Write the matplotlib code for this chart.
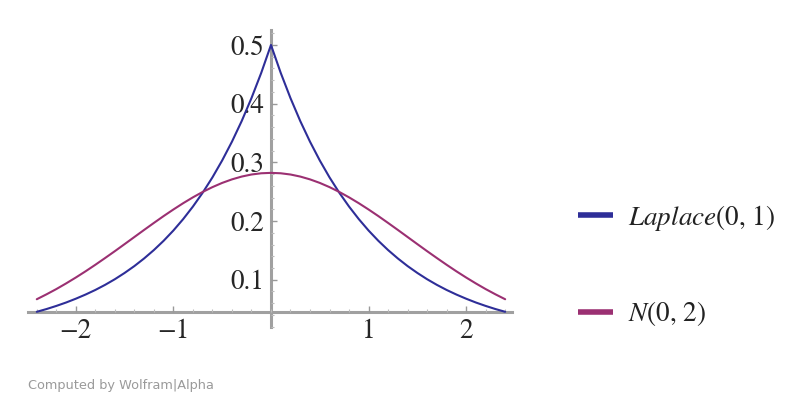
import matplotlib
matplotlib.use("Agg")
import matplotlib.pyplot as plt
from matplotlib.ticker import MultipleLocator, FixedLocator

# ---- data ----
x_vals = [-2.4, -2.3, -2.2, -2.1, -2.0, -1.9, -1.8, -1.7, -1.6, -1.5, -1.4, -1.3,
          -1.2, -1.1, -1.0, -0.9, -0.8, -0.7, -0.6, -0.5, -0.4, -0.3, -0.2, -0.1,
          0.0, 0.1, 0.2, 0.3, 0.4, 0.5, 0.6, 0.7, 0.8, 0.9, 1.0, 1.1, 1.2, 1.3,
          1.4, 1.5, 1.6, 1.7, 1.8, 1.9, 2.0, 2.1, 2.2, 2.3, 2.4]
laplace_vals = [0.0454, 0.0501, 0.0554, 0.0612, 0.0677, 0.0748, 0.0826, 0.0913,
                0.1009, 0.1116, 0.1233, 0.1363, 0.1506, 0.1664, 0.1839, 0.2033,
                0.2247, 0.2483, 0.2744, 0.3033, 0.3352, 0.3704, 0.4094, 0.4524,
                0.5000,
                0.4524, 0.4094, 0.3704, 0.3352, 0.3033, 0.2744, 0.2483, 0.2247,
                0.2033, 0.1839, 0.1664, 0.1506, 0.1363, 0.1233, 0.1116, 0.1009,
                0.0913, 0.0826, 0.0748, 0.0677, 0.0612, 0.0554, 0.0501, 0.0454]
normal_vals = [0.0668, 0.0752, 0.0841, 0.0937, 0.1038, 0.1144, 0.1255, 0.1370,
               0.1487, 0.1607, 0.1728, 0.1849, 0.1968, 0.2085, 0.2197, 0.2304,
               0.2404, 0.2496, 0.2578, 0.2650, 0.2710, 0.2758, 0.2793, 0.2814,
               0.2821,
               0.2814, 0.2793, 0.2758, 0.2710, 0.2650, 0.2578, 0.2496, 0.2404,
               0.2304, 0.2197, 0.2085, 0.1968, 0.1849, 0.1728, 0.1607, 0.1487,
               0.1370, 0.1255, 0.1144, 0.1038, 0.0937, 0.0841, 0.0752, 0.0668]
series_labels = ["$Laplace$(0, 1)", "$N$(0, 2)"]
x_ticks = [-2, -1, 1, 2]
x_tick_labels = ["\u22122", "\u22121", "1", "2"]
y_ticks = [0.1, 0.2, 0.3, 0.4, 0.5]
y_tick_labels = ["0.1", "0.2", "0.3", "0.4", "0.5"]
x_axis_level = 0.0454

plt.rcParams["mathtext.fontset"] = "stix"
plt.rcParams["font.family"] = ["STIXGeneral", "DejaVu Serif"]

W, H = 800, 408
fig = plt.figure(figsize=(W / 100, H / 100), dpi=100)
ax = fig.add_axes([28 / W, (H - 327) / H, 484 / W, 297 / H])
ax.set_xlim(-2.49, 2.47)
ax.set_ylim(0.0195, 0.5255)

blue = "#2E2E98"
purple = "#9B3072"
l1, = ax.plot(x_vals, laplace_vals, color=blue, lw=1.5, label=series_labels[0],
              zorder=3, solid_capstyle="round")
l2, = ax.plot(x_vals, normal_vals, color=purple, lw=1.5, label=series_labels[1],
              zorder=3, solid_capstyle="round")

axis_col = "#a0a0a0"
for s in ["top", "right"]:
    ax.spines[s].set_visible(False)
ax.spines["left"].set_position(("data", 0))
ax.spines["bottom"].set_position(("data", x_axis_level))
for s in ["left", "bottom"]:
    ax.spines[s].set_color(axis_col)
    ax.spines[s].set_linewidth(2.2)
    ax.spines[s].set_zorder(1)

ax.xaxis.set_major_locator(FixedLocator(x_ticks))
ax.set_xticklabels(x_tick_labels)
ax.xaxis.set_minor_locator(MultipleLocator(0.2))
ax.yaxis.set_major_locator(FixedLocator(y_ticks))
ax.set_yticklabels(y_tick_labels)
ax.yaxis.set_minor_locator(MultipleLocator(0.02))

ax.tick_params(axis="both", which="major", direction="in", length=4,
               width=1.0, color="#999999", labelsize=19.5, labelcolor="#262626")
ax.tick_params(axis="both", which="minor", direction="in", length=2.5,
               width=0.8, color="#bbbbbb")
ax.tick_params(axis="x", which="major", pad=5)
ax.tick_params(axis="y", which="major", pad=5)
ax.patch.set_alpha(0)

leg = fig.legend(handles=[l1, l2], loc="center left",
                 bbox_to_anchor=(578 / W, 1 - 265.5 / H),
                 frameon=False, borderpad=0, borderaxespad=0,
                 handlelength=1.3, handletextpad=0.55, labelspacing=2.45,
                 fontsize=19.5)
for h in leg.legend_handles:
    h.set_linewidth(4)
    h.set_solid_capstyle("butt")
for t in leg.get_texts():
    t.set_color("#222222")

fig.text(28 / W, 1 - 386 / H, "Computed by Wolfram|Alpha", family="DejaVu Sans",
         fontsize=9.3, color="#9a9a9a", va="center", ha="left")

fig.savefig("out.png", dpi=100)
